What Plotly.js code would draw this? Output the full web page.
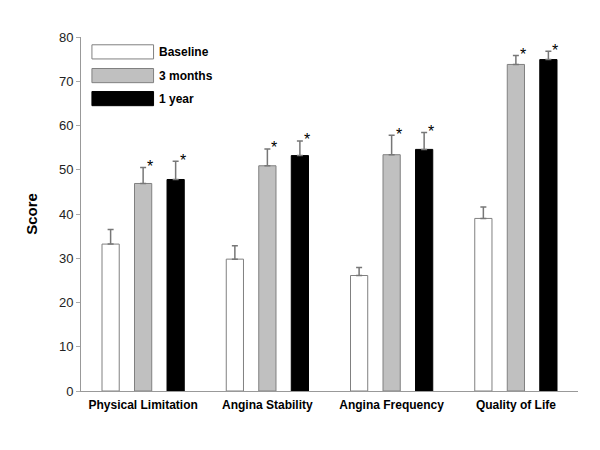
<!DOCTYPE html>
<html>
<head>
<meta charset="utf-8">
<script src="https://cdn.plot.ly/plotly-3.0.1.min.js"></script>
<style>html,body{margin:0;padding:0;background:#fff;}#chart{width:600px;height:450px;}</style>
</head>
<body>
<div id="chart"></div>
<script>
const categories = ['Physical Limitation', 'Angina Stability', 'Angina Frequency', 'Quality of Life'];
const seriesNames = ['Baseline', '3 months', '1 year'];
const baseline = [33.2, 29.8, 26.1, 39.0];
const baselineErr = [3.3, 3.0, 1.8, 2.6];
const months3 = [46.9, 50.9, 53.4, 73.8];
const months3Err = [3.6, 3.8, 4.4, 2.0];
const year1 = [47.8, 53.2, 54.6, 74.9];
const year1Err = [4.1, 3.3, 3.8, 1.9];
const sig3 = [true, true, true, true];
const sig1 = [true, true, true, true];

const FONT = 'Liberation Sans, Arial, sans-serif';
const fills = ['#ffffff', '#c0c0c0', '#000000'];
const lines = ['#808080', '#808080', '#000000'];
const vals = [baseline, months3, year1];
const errs = [baselineErr, months3Err, year1Err];

const traces = vals.map((v, k) => ({
  type: 'bar',
  name: seriesNames[k],
  x: categories,
  y: v,
  marker: {color: fills[k], line: {color: lines[k], width: 1}},
  error_y: {type: 'data', array: errs[k], symmetric: false, arrayminus: v.map(() => 0),
            color: '#777777', thickness: 1.5, width: 3},
  showlegend: false
}));

const annotations = [];
const slot = 0.262;
[[months3, months3Err, sig3, 0], [year1, year1Err, sig1, 1]].forEach(([v, e, s, k]) => {
  v.forEach((val, i) => {
    if (!s[i]) return;
    annotations.push({
      x: i + k * slot, y: val + e[i], xref: 'x', yref: 'y',
      text: '*', showarrow: false, xshift: 7, yshift: 1, yanchor: 'middle', xanchor: 'center',
      font: {family: FONT, size: 16, color: '#000'}
    });
  });
});

// custom legend
const shapes = [];
const legY = [0.958, 0.891, 0.826];
seriesNames.forEach((n, k) => {
  shapes.push({type: 'rect', xref: 'paper', yref: 'paper',
    x0: 0.022, x1: 0.146, y0: legY[k] - 0.02, y1: legY[k] + 0.02,
    fillcolor: fills[k], line: {color: lines[k], width: 1}});
  annotations.push({xref: 'paper', yref: 'paper', x: 0.153, y: legY[k], xanchor: 'left', yanchor: 'middle',
    text: '<b>' + n + '</b>', showarrow: false, font: {family: FONT, size: 12, color: '#000'}});
});

const layout = {
  width: 600, height: 450,
  margin: {l: 81, r: 22, t: 37, b: 59},
  paper_bgcolor: '#fff', plot_bgcolor: '#fff',
  barmode: 'group', bargap: 0.215, bargroupgap: 0.47,
  font: {family: FONT, size: 12, color: '#000'},
  xaxis: {
    showline: true, linecolor: '#999999', linewidth: 1, ticks: '', showgrid: false, zeroline: false,
    tickfont: {family: FONT, size: 12, color: '#000'}, ticklabelstandoff: 3,
    tickvals: categories, ticktext: categories.map(c => '<b>' + c + '</b>')
  },
  yaxis: {
    range: [0, 80], dtick: 10, showline: true, linecolor: '#999999', linewidth: 1,
    ticks: 'outside', ticklen: 4, tickcolor: '#aaaaaa', showgrid: false, zeroline: false,
    tickfont: {family: FONT, size: 13, color: '#222'},
    title: {text: '<b>Score</b>', font: {family: FONT, size: 15, color: '#000'}, standoff: 17}
  },
  shapes: shapes,
  annotations: annotations
};

Plotly.newPlot('chart', traces, layout, {displayModeBar: false, staticPlot: true});
</script>
</body>
</html>
